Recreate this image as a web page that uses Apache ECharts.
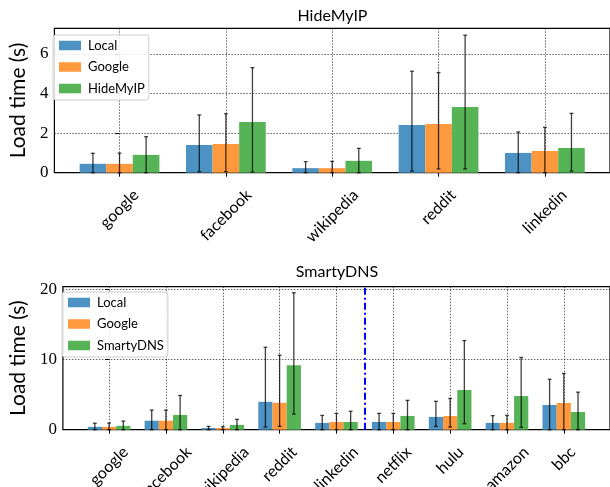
<!DOCTYPE html>
<html><head><meta charset="utf-8">
<script src="https://cdn.jsdelivr.net/npm/echarts@6/dist/echarts.min.js"></script>
<style>html,body{margin:0;padding:0;background:#fff}#c{width:610px;height:487px}</style>
</head><body><div id="c"></div>
<script>
// ---------- data ----------
const topTitle = 'HideMyIP';
const topCategories = ['google', 'facebook', 'wikipedia', 'reddit', 'linkedin'];
const topSeriesNames = ['Local', 'Google', 'HideMyIP'];
const topLocal      = [0.45, 1.40, 0.23, 2.41, 1.00];
const topLocalLow   = [0.00, 0.05, 0.00, 0.08, 0.00];
const topLocalHigh  = [0.98, 2.92, 0.56, 5.13, 2.06];
const topGoogle     = [0.45, 1.45, 0.23, 2.46, 1.10];
const topGoogleLow  = [0.00, 0.05, 0.00, 0.19, 0.00];
const topGoogleHigh = [0.99, 2.98, 0.57, 5.06, 2.29];
const topVpn        = [0.90, 2.56, 0.60, 3.32, 1.25];
const topVpnLow     = [0.00, 0.03, 0.00, 0.19, 0.08];
const topVpnHigh    = [1.82, 5.31, 1.23, 6.95, 3.00];
const topYTicks = [0, 2, 4, 6];

const bottomTitle = 'SmartyDNS';
const bottomCategories = ['google', 'facebook', 'wikipedia', 'reddit', 'linkedin', 'netflix', 'hulu', 'amazon', 'bbc'];
const bottomSeriesNames = ['Local', 'Google', 'SmartyDNS'];
const botLocal      = [0.40, 1.28, 0.24, 3.97, 0.97, 1.11, 1.82, 0.97, 3.52];
const botLocalLow   = [0.00, 0.00, 0.00, 0.38, 0.00, 0.00, 0.47, 0.00, 0.00];
const botLocalHigh  = [0.92, 2.79, 0.47, 11.73, 2.03, 2.32, 4.04, 2.00, 7.17];
const botGoogle     = [0.40, 1.28, 0.24, 3.83, 1.10, 1.10, 1.94, 0.97, 3.80];
const botGoogleLow  = [0.00, 0.00, 0.00, 0.47, 0.00, 0.00, 0.38, 0.00, 0.00];
const botGoogleHigh = [0.95, 2.79, 0.43, 10.59, 2.32, 2.32, 4.44, 2.03, 8.00];
const botDns        = [0.55, 2.10, 0.68, 9.18, 1.10, 1.96, 5.65, 4.79, 2.52];
const botDnsLow     = [0.00, 0.00, 0.00, 2.22, 0.00, 0.00, 0.85, 0.33, 0.00];
const botDnsHigh    = [1.23, 4.87, 1.47, 19.48, 2.62, 4.18, 12.68, 10.28, 5.34];
const bottomYTicks = [0, 10, 20];
const bottomDividerAt = 4.5;

// ---------- style ----------
const COLORS = ['#4c92c3', '#ff993e', '#56b356'];
const SANS = 'Lato';
const SERIF = 'Liberation Serif';
const BAR_W = 0.25;
const OFFSETS = [-0.25, 0, 0.25];
const GRID_LINE = {color: 'rgba(0,0,0,0.6)', type: [1.5, 1.5], width: 1};
const CAT_FONT = 16;
const CAT_PAD = 13.5;

function measure(text, font) {
  const ctx = document.createElement('canvas').getContext('2d');
  ctx.font = font;
  return ctx.measureText(text).width;
}
function barRender(offset) {
  return function (params, api) {
    const x = api.value(0) + offset;
    const p1 = api.coord([x - BAR_W / 2, api.value(1)]);
    const p2 = api.coord([x + BAR_W / 2, 0]);
    return {type: 'rect', shape: {x: p1[0], y: p1[1], width: p2[0] - p1[0], height: p2[1] - p1[1]},
            style: {fill: api.visual('color')}};
  };
}
function errRender(offset) {
  return function (params, api) {
    const x = api.value(0) + offset;
    const lo = api.coord([x, api.value(1)]);
    const hi = api.coord([x, api.value(2)]);
    const c = 1.9;
    const st = {stroke: '#000', lineWidth: 1.3, opacity: 0.75};
    return {type: 'group', children: [
      {type: 'line', shape: {x1: lo[0], y1: lo[1], x2: hi[0], y2: hi[1]}, style: st},
      {type: 'line', shape: {x1: hi[0] - c, y1: hi[1], x2: hi[0] + c, y2: hi[1]}, style: st},
      {type: 'line', shape: {x1: lo[0] - c, y1: lo[1], x2: lo[0] + c, y2: lo[1]}, style: st}
    ]};
  };
}
// category tick labels, rotated 45 degrees and centred under each tick (matplotlib ha='center')
function labelSeries(gridIdx, categories) {
  const font = CAT_FONT + 'px ' + SANS;
  const h = CAT_FONT * 1.1;
  return {
    type: 'custom', name: 'labels' + gridIdx, xAxisIndex: gridIdx, yAxisIndex: gridIdx,
    silent: true, clip: false, z: 5,
    encode: {x: 0},
    data: categories.map((c, i) => [i]),
    renderItem: function (params, api) {
      const name = categories[params.dataIndex];
      const w = measure(name, font);
      const p = api.coord([api.value(0), 0]);
      return {type: 'text', x: p[0], y: p[1] + CAT_PAD + 0.3536 * (w + h), rotation: Math.PI / 4,
              style: {text: name, font: font, fill: '#000', align: 'center', verticalAlign: 'middle'}};
    }
  };
}
function makeSeries(gridIdx, names, values, lows, highs) {
  const out = [];
  names.forEach((name, s) => {
    out.push({
      type: 'custom', name: name, xAxisIndex: gridIdx, yAxisIndex: gridIdx, z: 2,
      itemStyle: {color: COLORS[s]},
      renderItem: barRender(OFFSETS[s]),
      encode: {x: 0, y: 1},
      data: values[s].map((v, i) => [i, v])
    });
  });
  names.forEach((name, s) => {
    out.push({
      type: 'custom', name: name + ' err', xAxisIndex: gridIdx, yAxisIndex: gridIdx, z: 3,
      renderItem: errRender(OFFSETS[s]),
      encode: {x: 0, y: [1, 2]},
      data: lows[s].map((v, i) => [i, v, highs[s][i]])
    });
  });
  return out;
}
function legendCfg(names, left, top) {
  return {
    data: names, orient: 'vertical', left: left, top: top, icon: 'rect',
    itemWidth: 22, itemHeight: 9.5, itemGap: 8.5, selectedMode: false,
    padding: [4, 4, 5, 6], borderColor: '#cccccc', borderWidth: 1, borderRadius: 3,
    backgroundColor: 'rgba(255,255,255,0.85)',
    textStyle: {fontFamily: SANS, fontSize: 13, color: '#000', padding: [0, 0, 0, 2]}
  };
}
function xAxisCfg(gridIdx, categories) {
  const n = categories.length;
  const pad = 0.375 + 0.05 * (n - 1 + 0.75);
  return {
    type: 'value', gridIndex: gridIdx, min: -pad, max: n - 1 + pad,
    minInterval: 1, maxInterval: 1,
    axisLine: {show: false},
    axisTick: {show: true, length: 4, customValues: categories.map((_, i) => i), lineStyle: {color: '#000', width: 1}},
    axisLabel: {show: false},
    splitLine: {show: true, lineStyle: GRID_LINE}
  };
}
function yAxisCfg(gridIdx, ticks, max, gap) {
  return {
    type: 'value', gridIndex: gridIdx, min: 0, max: max, interval: ticks[1] - ticks[0],
    name: 'Load time (s)', nameLocation: 'middle', nameGap: gap,
    nameTextStyle: {fontFamily: SANS, fontSize: 21, color: '#000'},
    axisLine: {show: false},
    axisTick: {show: true, length: 4, lineStyle: {color: '#000'}},
    axisLabel: {fontFamily: SERIF, fontSize: 17, color: '#000', margin: 6, showMaxLabel: false},
    splitLine: {show: true, lineStyle: GRID_LINE}
  };
}

const series = []
  .concat(makeSeries(0, topSeriesNames, [topLocal, topGoogle, topVpn],
                     [topLocalLow, topGoogleLow, topVpnLow], [topLocalHigh, topGoogleHigh, topVpnHigh]))
  .concat(makeSeries(1, bottomSeriesNames, [botLocal, botGoogle, botDns],
                     [botLocalLow, botGoogleLow, botDnsLow], [botLocalHigh, botGoogleHigh, botDnsHigh]));
series.push(labelSeries(0, topCategories), labelSeries(1, bottomCategories));
// vertical divider in the bottom chart
series.push({
  type: 'custom', name: 'divider', xAxisIndex: 1, yAxisIndex: 1, data: [], renderItem: () => null,
  markLine: {silent: true, symbol: ['none', 'none'], label: {show: false},
             lineStyle: {color: '#0000ff', width: 2, type: [7, 3, 2, 3]},
             emphasis: {disabled: true},
             data: [{xAxis: bottomDividerAt}]}
});

const chart = echarts.init(document.getElementById('c'), null, {renderer: 'canvas'});
chart.setOption({
  animation: false,
  backgroundColor: '#fff',
  title: [
    {text: topTitle, left: 332.5, top: 8, textAlign: 'center', padding: 0,
     textStyle: {fontFamily: SANS, fontSize: 16, fontWeight: 'normal', color: '#000'}},
    {text: bottomTitle, left: 337, top: 264, textAlign: 'center', padding: 0,
     textStyle: {fontFamily: SANS, fontSize: 16, fontWeight: 'normal', color: '#000'}}
  ],
  legend: [legendCfg(topSeriesNames, 53, 35), legendCfg(bottomSeriesNames, 62, 292)],
  grid: [
    {left: 47, top: 28.3, width: 571, height: 144.4, show: true, borderColor: '#000', borderWidth: 1.2, backgroundColor: 'transparent'},
    {left: 55.8, top: 286.7, width: 562.2, height: 143, show: true, borderColor: '#000', borderWidth: 1.2, backgroundColor: 'transparent'}
  ],
  xAxis: [xAxisCfg(0, topCategories), xAxisCfg(1, bottomCategories)],
  yAxis: [yAxisCfg(0, topYTicks, 7.3, 17), yAxisCfg(1, bottomYTicks, 20.35, 26)],
  series: series
});
</script>
</body></html>
